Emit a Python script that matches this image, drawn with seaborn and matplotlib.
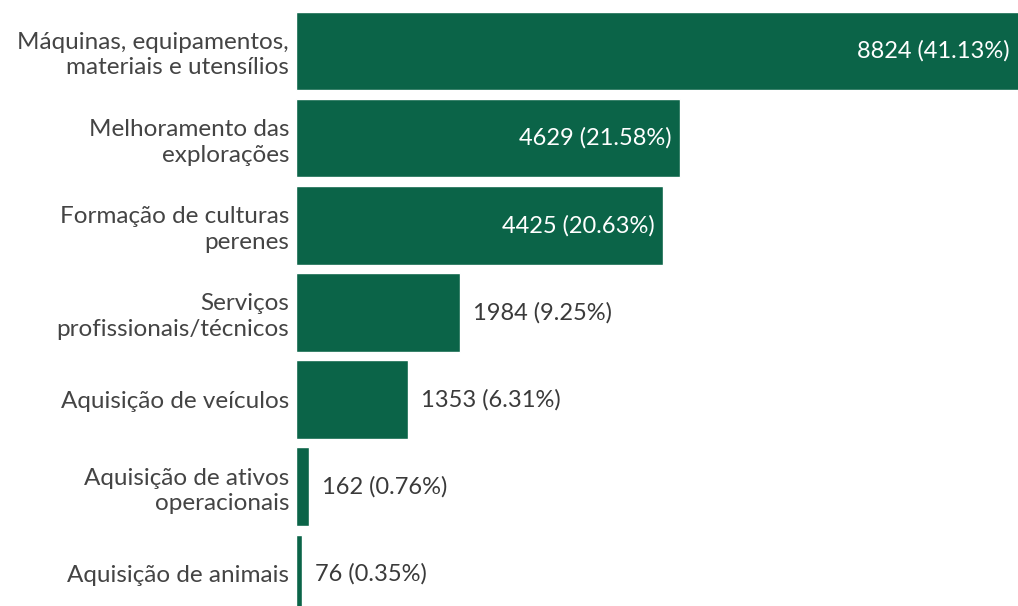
import matplotlib
matplotlib.use("Agg")
import matplotlib.pyplot as plt
import seaborn as sns
import pandas as pd

categories = [
    "Máquinas, equipamentos,\nmateriais e utensílios",
    "Melhoramento das\nexplorações",
    "Formação de culturas\nperenes",
    "Serviços\nprofissionais/técnicos",
    "Aquisição de veículos",
    "Aquisição de ativos\noperacionais",
    "Aquisição de animais",
]
counts = [8824, 4629, 4425, 1984, 1353, 162, 76]
percents = [41.13, 21.58, 20.63, 9.25, 6.31, 0.76, 0.35]

df = pd.DataFrame({"categoria": categories, "n": counts})

sns.set_style("white")
plt.rcParams["font.family"] = ["Lato", "DejaVu Sans"]

green = "#0b6448"
fig = plt.figure(figsize=(10.18, 6.06), dpi=100)
ax = fig.add_axes([0.2908, 0.0, 0.7092, 1.0])

sns.barplot(data=df, x="n", y="categoria", color=green, saturation=1,
            width=0.9, ax=ax)

xmax = 8711
ax.set_xlim(0, xmax)
ax.set_ylim(6.37, -0.588)

for i, (n, p) in enumerate(zip(counts, percents)):
    label = f"{n} ({p:.2f}%)"
    if n > 3000:
        ax.annotate(label, xy=(min(n, xmax), i), xytext=(-6, 0),
                    textcoords="offset points", ha="right", va="center",
                    color="white", fontsize=17)
    else:
        ax.annotate(label, xy=(n, i), xytext=(9, 0),
                    textcoords="offset points", ha="left", va="center",
                    color="#3a3a3a", fontsize=17)

sns.despine(ax=ax, left=True, bottom=True)
ax.set_xticks([])
ax.set_xlabel("")
ax.set_ylabel("")
ax.tick_params(axis="y", length=0, pad=5, labelsize=17.5, labelcolor="#444444")
for t in ax.get_yticklabels():
    t.set_linespacing(1.25)

fig.savefig("out.png", dpi=100)
